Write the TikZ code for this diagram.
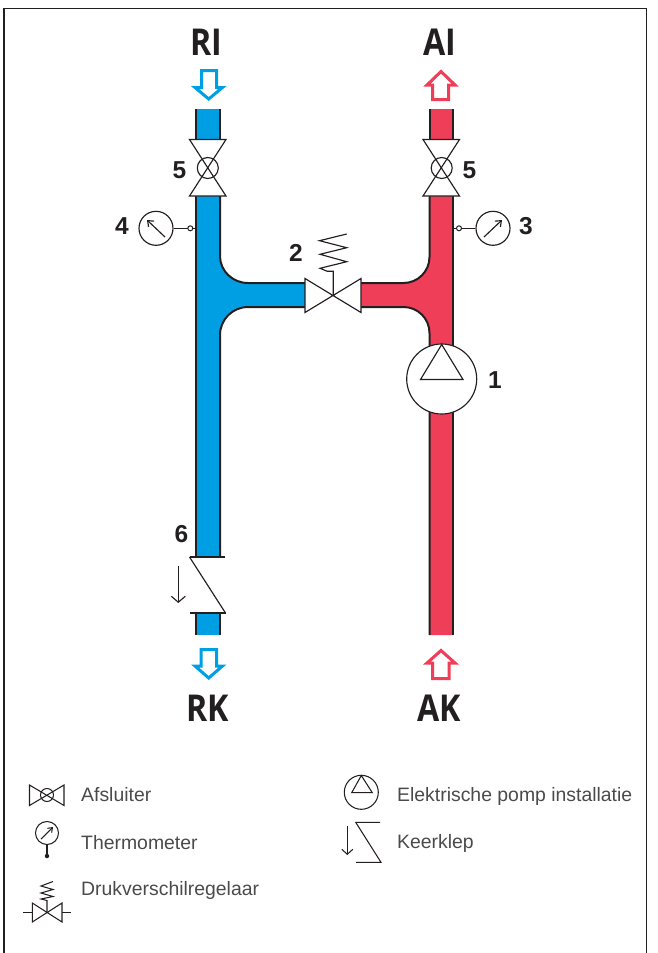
\documentclass[tikz,border=0pt]{standalone}
\usepackage{fontspec}
\setmainfont{Liberation Sans}
\newfontfamily\capsfont[FakeStretch=0.87]{Open Sans}
\usetikzlibrary{arrows.meta}
\definecolor{ink}{HTML}{231F20}
\definecolor{pipeblue}{HTML}{009FE3}
\definecolor{pipered}{HTML}{EF3E58}
\definecolor{legendtext}{HTML}{4A4A4A}
\tikzset{
  pipeedge/.style={draw=ink,line width=2pt},
  sym/.style={draw=ink,line width=1.15pt,fill=white,line join=miter},
  symline/.style={draw=ink,line width=1.15pt},
  legsym/.style={draw=ink,line width=1.05pt},
  dial/.style={circle,draw=ink,line width=1.15pt,fill=white,inner sep=0pt,minimum size=#1},
  tap/.style={circle,draw=ink,line width=1pt,fill=white,inner sep=0pt,minimum size=5pt},
  flowarrow/.style={line width=3pt,fill=white,line join=miter,miter limit=10},
  capital/.style={font=\capsfont\bfseries\fontsize{37}{37}\selectfont,text=ink,inner sep=0pt,anchor=base},
  num/.style={font=\bfseries\fontsize{24.5}{24.5}\selectfont,text=ink,inner sep=0pt,anchor=base},
  legendtxt/.style={font=\fontsize{19.4}{19.4}\selectfont,text=legendtext,inner sep=0pt,anchor=base west},
  frameline/.style={draw=ink,line width=1.2pt},
}
\begin{document}
\begin{tikzpicture}[x=1pt,y=-1pt]
\useasboundingbox (0,0) rectangle (657,953);
% frame
\draw[frameline] (4,953) -- (4,8.3) -- (646.7,8.3) -- (646.7,953);
% blue pipe fills
\fill[pipeblue] (196,109) rectangle (220,139);
\fill[pipeblue] (196,613) rectangle (220,635);
\fill[pipeblue] (196,196) -- (196,557) -- (220,557) -- (220,335) arc[start angle=180,end angle=90,radius=28pt] -- (305,307) -- (305,283) -- (248,283) arc[start angle=270,end angle=180,x radius=28pt,y radius=27pt] -- (220,196) -- cycle;
% red pipe fills
\fill[pipered] (429.5,109) rectangle (453,139);
\fill[pipered] (453,196) -- (453,635) -- (429.5,635) -- (429.5,333) arc[start angle=0,end angle=90,radius=26pt] -- (361,307) -- (361,283) -- (403.5,283) arc[start angle=-90,end angle=0,radius=26pt] -- (429.5,196) -- cycle;
% blue pipe edges
\draw[pipeedge] (196,109) -- (196,139);
\draw[pipeedge] (220,109) -- (220,139);
\draw[pipeedge] (196,196) -- (196,557);
\draw[pipeedge] (196,613) -- (196,635);
\draw[pipeedge] (220,613) -- (220,635);
\draw[pipeedge] (220,196) -- (220,256) arc[start angle=180,end angle=270,x radius=28pt,y radius=27pt] -- (305,283);
\draw[pipeedge] (305,307) -- (248,307) arc[start angle=90,end angle=180,radius=28pt] -- (220,557);
% red pipe edges
\draw[pipeedge] (429.5,109) -- (429.5,139);
\draw[pipeedge] (453,109) -- (453,139);
\draw[pipeedge] (453,196) -- (453,635);
\draw[pipeedge] (429.5,196) -- (429.5,257) arc[start angle=0,end angle=-90,radius=26pt] -- (361,283);
\draw[pipeedge] (361,307) -- (403.5,307) arc[start angle=90,end angle=0,radius=26pt] -- (429.5,635);
% shut-off valves
\draw[sym] (189.5,139.5) -- (226,139.5) -- (189.5,196) -- (226,196) -- cycle;
\node[dial=21pt,fill=none] (v5l) at (207.8,168) {};
\draw[sym] (423,139.5) -- (459.5,139.5) -- (423,196) -- (459.5,196) -- cycle;
\node[dial=21pt,fill=none] (v5r) at (441.7,168) {};
% gauges
\coordinate (p4) at (196,228.3);
\coordinate (p3) at (453,228.3);
\node[dial=34pt] (g4) at (156,228.3) {};
\node[dial=34pt] (g3) at (493,228.3) {};
\draw[symline] (g4) -- (p4);
\draw[symline] (g3) -- (p3);
\node[tap] (t4) at (190.3,228.3) {};
\node[tap] (t3) at (459,228.3) {};
\draw[symline,-{Straight Barb[length=5pt,width=8pt]}] (165,237) -- (147,220);
\draw[symline,-{Straight Barb[length=5pt,width=8pt]}] (484,237) -- (502,220);
% differential pressure valve
\draw[sym] (305,278.5) -- (361,312.5) -- (361,278.5) -- (305,312.5) -- cycle;
\coordinate (vc) at (333.3,295.6);
\draw[symline,line join=miter] (vc) -- (333.3,271.3) -- (327.3,271.3) -- (320,268.3) -- (346.7,261.7) -- (320,254.3) -- (346.7,247.7) -- (319.5,240.7) -- (346.7,234);
% pump
\node[dial=70pt] (pump) at (441.7,379) {};
\draw[symline,line join=miter] (441.7,344.5) -- (463,379.5) -- (420.5,379.5) -- cycle;
% check valve
\draw[symline] (189.5,557) -- (225,557);
\draw[symline] (189.5,557) -- (225.5,613);
\draw[symline] (190,613) -- (225.5,613);
\draw[symline,-{Straight Barb[length=6pt,width=14pt]}] (178.3,566) -- (178.3,603);
% flow arrows
\draw[flowarrow,draw=pipeblue] (201.5,70.5) -- (216.5,70.5) -- (216.5,87.5) -- (222.5,87.5) -- (208.7,99) -- (195,87.5) -- (201.5,87.5) -- cycle;
\draw[flowarrow,draw=pipered] (432.5,99.5) -- (448.5,99.5) -- (448.5,85) -- (455,85) -- (441,71.5) -- (427,85) -- (432.5,85) -- cycle;
\draw[flowarrow,draw=pipeblue] (201,649.5) -- (216.5,649.5) -- (216.5,666) -- (222.5,666) -- (208.7,678) -- (195,666) -- (201,666) -- cycle;
\draw[flowarrow,draw=pipered] (432.5,678.5) -- (449,678.5) -- (449,663) -- (455,663) -- (441,650.5) -- (427,663) -- (432.5,663) -- cycle;
% labels
\node[capital] (ri) at (206.5,55) {RI};
\node[capital] (ai) at (439.5,55) {AI};
\node[capital] (rk) at (208,721) {RK};
\node[capital] (ak) at (439,721) {AK};
\node[num] (n5l) at (179.5,178) {5};
\node[num] (n5r) at (469.5,178) {5};
\node[num] (n4) at (122,234) {4};
\node[num] (n3) at (526,234) {3};
\node[num] (n2) at (296,261) {2};
\node[num] (n1) at (495,388) {1};
\node[num] (n6) at (181.5,542) {6};
% legend: shut-off valve
\draw[legsym,line join=miter] (29.5,785) -- (64,805.5) -- (64,785) -- (29.5,805.5) -- cycle;
\node[dial=13pt,fill=none,line width=1.05pt] (la) at (47,795) {};
\node[legendtxt] (ta) at (81,801.7) {Afsluiter};
% legend: thermometer
\node[dial=23pt,line width=1.05pt] (lg) at (47,833) {};
\node[circle,fill=ink,inner sep=0pt,minimum size=4.5pt] (lgd) at (47,856) {};
\draw[legsym] (lg) -- (lgd);
\draw[legsym,-{Straight Barb[length=4pt,width=6pt]}] (41,839) -- (53,827);
\node[legendtxt] (tt) at (81,849) {Thermometer};
% legend: regulator
\draw[legsym,line join=miter] (32.3,903) -- (62,922) -- (62,903) -- (32.3,922) -- cycle;
\coordinate (lc) at (47,912.5);
\draw[legsym] (22.7,912.5) -- (32.3,912.5);
\draw[legsym] (62,912.5) -- (71.3,912.5);
\draw[legsym,line join=miter] (lc) -- (47,900.5) -- (41,899) -- (53,896.5) -- (41,893) -- (53,889.5) -- (41,886) -- (53,881.5);
\node[legendtxt] (td) at (81,895.7) {Drukverschilregelaar};
% legend: pump
\node[dial=34pt,line width=1.05pt] (lp) at (361.3,792.3) {};
\draw[legsym,line join=miter] (361.3,775.5) -- (372.3,792.7) -- (351.7,792.7) -- cycle;
\node[legendtxt] (te) at (397,801.7) {Elektrische pomp installatie};
% legend: check valve
\draw[legsym,line join=miter] (380,822.3) -- (355.7,822.3) -- (381,862.3) -- (356,862.3);
\draw[legsym,-{Straight Barb[length=5pt,width=11pt]}] (347.3,825.7) -- (347.3,855);
\node[legendtxt] (tk) at (397,848) {Keerklep};
\end{tikzpicture}
\end{document}
